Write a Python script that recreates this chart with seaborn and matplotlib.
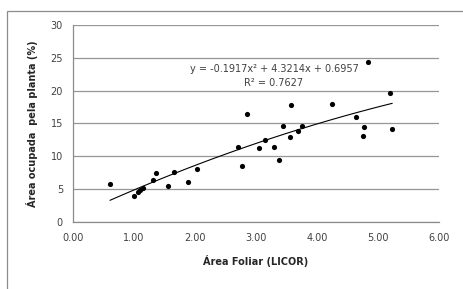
import numpy as np
import pandas as pd
import matplotlib
matplotlib.use("Agg")
import matplotlib.pyplot as plt
import seaborn as sns
from matplotlib.patches import Rectangle

# Data
area_foliar = [0.61, 1.00, 1.07, 1.10, 1.15, 1.32, 1.36, 1.56, 1.66, 1.89, 2.04,
               2.71, 2.77, 2.85, 3.05, 3.14, 3.30, 3.38, 3.44, 3.55, 3.58, 3.69,
               3.76, 4.25, 4.64, 4.76, 4.75, 4.84, 5.19, 5.23]
area_ocupada = [5.7, 3.9, 4.5, 4.8, 5.2, 6.4, 7.5, 5.4, 7.6, 6.0, 8.0,
                11.35, 8.45, 16.4, 11.3, 12.5, 11.4, 9.4, 14.6, 12.9, 17.8, 13.8,
                14.6, 17.9, 16.0, 14.5, 13.0, 24.3, 19.6, 14.1]
poly_coefs = [-0.1917, 4.3214, 0.6957]
r2 = 0.7627
x_ticks = [0, 1, 2, 3, 4, 5, 6]
x_tick_labels = ["0.00", "1.00", "2.00", "3.00", "4.00", "5.00", "6.00"]
y_ticks = [0, 5, 10, 15, 20, 25, 30]

df = pd.DataFrame({"x": area_foliar, "y": area_ocupada})

sns.set_theme(style="white")
plt.rcParams['font.family'] = ['DejaVu Sans']

fig = plt.figure(figsize=(4.63, 2.89), dpi=100)
ax = fig.add_axes([72.7 / 463, 1 - 221.7 / 289, (439.3 - 72.7) / 463, (221.7 - 25) / 289])

# outer chart border (Excel chart area)
fig.patches.append(Rectangle((7 / 463, -0.1), 1.2, (289 - 11) / 289 + 0.1,
                             transform=fig.transFigure, fill=False,
                             edgecolor="#8c8c8c", linewidth=0.9, zorder=0))

for yv in y_ticks:
    ax.axhline(yv, color="#969696", linewidth=0.9, zorder=0)

sns.scatterplot(data=df, x="x", y="y", ax=ax, color="black", s=14,
                edgecolor="black", linewidth=0, zorder=3)

xs = np.linspace(min(area_foliar), max(area_foliar), 100)
sns.lineplot(x=xs, y=np.polyval(poly_coefs, xs), ax=ax, color="black",
             linewidth=0.8, zorder=2)

ax.set_xlim(0, 6)
ax.set_ylim(0, 30)
ax.set_xticks(x_ticks)
ax.set_xticklabels(x_tick_labels)
ax.set_yticks(y_ticks)
ax.tick_params(axis="both", labelsize=7, colors="#8c8c8c", labelcolor="#404040",
               length=3, width=0.8, direction="out", pad=3)
ax.tick_params(axis="x", pad=5)
ax.tick_params(axis="y", pad=4)

for side in ["top", "right"]:
    ax.spines[side].set_visible(False)
for side in ["left", "bottom"]:
    ax.spines[side].set_color("#8c8c8c")
    ax.spines[side].set_linewidth(0.9)

ax.set_xlabel("Área Foliar (LICOR)", fontsize=7, fontweight="bold", color="#262626", labelpad=9)
ax.set_ylabel("Área ocupada  pela planta (%)", fontsize=7, fontweight="bold", color="#262626", labelpad=9)

eq = "y = -{:.4f}x² + {:.4f}x + {:.4f}".format(-poly_coefs[0], poly_coefs[1], poly_coefs[2])
fig.text(274 / 463, 1 - 69 / 289, eq, fontsize=7, color="#404040", ha="center", va="center")
fig.text(274 / 463, 1 - 83.5 / 289, "R² = {:.4f}".format(r2), fontsize=7, color="#404040",
         ha="center", va="center")

fig.savefig("out.png", dpi=100)
